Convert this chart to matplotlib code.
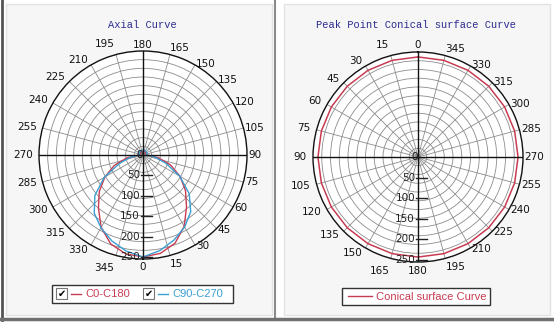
import numpy as np
import matplotlib
matplotlib.use("Agg")
import matplotlib.pyplot as plt
from matplotlib.transforms import Affine2D
from matplotlib.patches import Rectangle
from matplotlib.lines import Line2D

# ---- data ----
gamma = [0, 10, 20, 30, 40, 50, 60, 70, 80, 90, 100, 120, 140, 160, 180]
c0 = [250, 245, 230, 202, 166, 136, 105, 72, 38, 9, 8, 8, 9, 10, 10]      # red, right half
c180 = [250, 246, 232, 205, 170, 140, 108, 75, 40, 9, 8, 8, 9, 10, 10]    # red, left half
c90 = [250, 238, 222, 204, 182, 148, 104, 60, 30, 9, 10, 11, 12, 12, 12]  # blue, right half
c270 = [250, 239, 224, 206, 186, 154, 110, 62, 32, 9, 10, 11, 12, 12, 12] # blue, left half

cone_angles = list(range(0, 361, 15))
cone_vals = [243, 243, 243, 243, 243, 243, 243, 243, 243, 243, 243, 243, 243,
             243, 243, 243, 243, 243, 243, 243, 243, 243, 243, 243, 243]

angle_labels = list(range(0, 360, 15))
r_ticks = [50, 100, 150, 200, 250]

RMAX = 255
RED = '#c83c52'
BLUE = '#3a9fd2'
W, H = 554, 322

fig = plt.figure(figsize=(W / 100, H / 100), dpi=100, facecolor='white')
px = Affine2D().scale(1 / W, -1 / H).translate(0, 1) + fig.transFigure

# panel frames (behind the axes)
for x0 in (6, 284):
    fig.patches.append(Rectangle((x0, 4), 266, 311, transform=px, facecolor='#f6f6f6',
                                 edgecolor='#e2e2e2', lw=1, zorder=-5))
fig.lines.append(Line2D([1.5, 1.5], [0, 320], transform=px, color='#555555', lw=2, zorder=-4))
fig.lines.append(Line2D([275, 275], [0, 318], transform=px, color='#8a8a8a', lw=1.5, zorder=-4))
fig.lines.append(Line2D([0, W], [319, 319], transform=px, color='#707070', lw=2.5, zorder=-4))


def polar_panel(cx, cy, rad, zero, title, tx):
    rect = [(cx - rad) / W, 1 - (cy + rad) / H, 2 * rad / W, 2 * rad / H]
    ax = fig.add_axes(rect, projection='polar')
    ax.set_facecolor('white')
    ax.set_theta_zero_location(zero)
    ax.set_theta_direction(1)
    ax.set_ylim(0, RMAX)
    ax.set_thetagrids(range(0, 360, 15), labels=[])
    ax.set_rgrids(np.linspace(0, RMAX, 13)[1:-1], labels=[])
    ax.grid(True, color='#8c8c8c', lw=0.6)
    ax.spines['polar'].set_color('#111111')
    ax.spines['polar'].set_linewidth(1.0)
    ax.tick_params(axis='x', pad=0, length=0)

    # overlay for crosshair and radial scale
    ov = fig.add_axes(rect, frameon=False)
    ov.set_xlim(-RMAX, RMAX)
    ov.set_ylim(-RMAX, RMAX)
    ov.axis('off')
    ov.plot([-RMAX, RMAX], [0, 0], color='#111111', lw=1)
    ov.plot([0, 0], [-RMAX, RMAX], color='#111111', lw=1)
    u = RMAX / rad
    for r in r_ticks:
        ov.plot([-2 * u, 9 * u], [-r, -r], color='#222222', lw=1)
        ov.text(-3 * u, -r, str(r), ha='right', va='center', fontsize=7.5,
                family='DejaVu Sans', color='#222222')
    ov.text(0, 0, '0', ha='right', va='center', fontsize=7.5, color='#222222')

    # angle labels
    sgn = 1 if zero == 'S' else -1
    for a in angle_labels:
        t = np.deg2rad(a)
        dx = sgn * np.sin(t)
        dy = -sgn * np.cos(t)
        if abs(dx) < 0.1:
            ha = 'center'
        else:
            ha = 'left' if dx > 0 else 'right'
        if dy > 0.9:
            va = 'bottom'
        elif dy < -0.9:
            va = 'top'
        else:
            va = 'center'
        gap = 6 if dx < -0.1 else 1.5
        ax.annotate(str(a), xy=(t, RMAX), xytext=(dx * gap, dy * gap - (2 if dy < -0.9 else 0)),
                    textcoords='offset pixels', ha=ha, va=va, fontsize=7.5,
                    family='DejaVu Sans', color='#111111', annotation_clip=False)

    fig.text(tx / W, 1 - 25 / H, title, ha='center', va='center', fontsize=7.5,
             family='Liberation Mono', color='#2a2a90')
    return ax


axL = polar_panel(143, 155, 104, 'S', 'Axial Curve', 142)
axR = polar_panel(418, 157, 105, 'N', 'Peak Point Conical surface Curve', 416)

g = np.array(gamma)
thL = np.deg2rad(np.concatenate([g, 360 - g[::-1]]))
axL.plot(thL, np.concatenate([c0, c180[::-1]]), color=RED, lw=1)
axL.plot(thL, np.concatenate([c90, c270[::-1]]), color=BLUE, lw=1)

axR.plot(np.deg2rad(cone_angles), cone_vals, color=RED, lw=1.1)

# legends drawn in pixel space
fig.patches.append(Rectangle((52, 285), 181, 18, transform=px, facecolor='white',
                             edgecolor='#333333', lw=1))
for bx, col, lab in ((56, RED, 'C0-C180'), (143, BLUE, 'C90-C270')):
    fig.patches.append(Rectangle((bx, 288.5), 11, 11, transform=px, facecolor='white',
                                 edgecolor='#777777', lw=0.8))
    fig.text(0, 0, '\u2714', transform=Affine2D().translate(bx + 5.5, 294) + px,
             ha='center', va='center', fontsize=7, color='black')
    fig.lines.append(Line2D([bx + 15, bx + 25], [294, 294], transform=px, color=col, lw=1))
    fig.text(0, 0, lab, transform=Affine2D().translate(bx + 29, 294.5) + px,
             ha='left', va='center', fontsize=8, family='Liberation Sans', color=col)

fig.patches.append(Rectangle((342, 288), 148, 17, transform=px, facecolor='white',
                             edgecolor='#333333', lw=1))
fig.lines.append(Line2D([348, 372], [296.5, 296.5], transform=px, color=RED, lw=1))
fig.text(0, 0, 'Conical surface Curve', transform=Affine2D().translate(376, 297) + px,
         ha='left', va='center', fontsize=8, family='Liberation Sans', color=RED)

fig.savefig('out.png', dpi=100, facecolor=fig.get_facecolor())
